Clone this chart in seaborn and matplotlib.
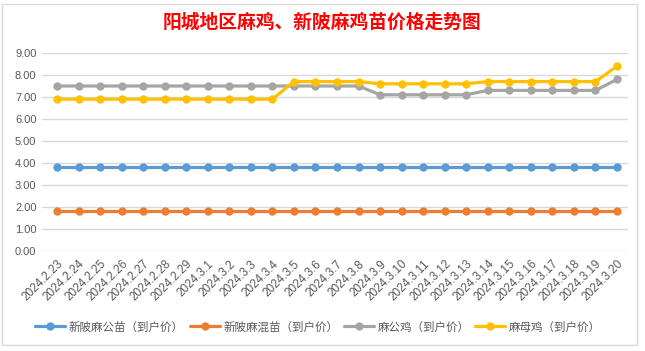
import numpy as np
import pandas as pd
import matplotlib
matplotlib.use("Agg")
import matplotlib.pyplot as plt
import seaborn as sns
from matplotlib.lines import Line2D
from matplotlib.patches import Rectangle

dates = ["2024.2.23", "2024.2.24", "2024.2.25", "2024.2.26", "2024.2.27", "2024.2.28",
         "2024.2.29", "2024.3.1", "2024.3.2", "2024.3.3", "2024.3.4", "2024.3.5",
         "2024.3.6", "2024.3.7", "2024.3.8", "2024.3.9", "2024.3.10", "2024.3.11",
         "2024.3.12", "2024.3.13", "2024.3.14", "2024.3.15", "2024.3.16", "2024.3.17",
         "2024.3.18", "2024.3.19", "2024.3.20"]

gongmiao = [3.8] * 27
hunmiao = [1.8] * 27
gongji = [7.5] * 15 + [7.1] * 5 + [7.3] * 6 + [7.8]
muji = [6.9] * 11 + [7.7] * 4 + [7.6] * 5 + [7.7] * 6 + [8.4]

series_names = ["新陂麻公苗（到户价）", "新陂麻混苗（到户价）", "麻公鸡（到户价）", "麻母鸡（到户价）"]
series_vals = [gongmiao, hunmiao, gongji, muji]
colors = ["#5B9BD5", "#ED7D31", "#A5A5A5", "#FFC000"]
title = "阳城地区麻鸡、新陂麻鸡苗价格走势图"

sns.set_theme(style="white")
plt.rcParams['font.family'] = ['Noto Sans CJK SC', 'DejaVu Sans']

W, H = 645, 351
fig = plt.figure(figsize=(W / 100, H / 100), dpi=100)
fig.patch.set_facecolor("white")

left_px, right_px = 42, 628
top_px, bot_px = 53, 251
ax = fig.add_axes([left_px / W, 1 - bot_px / H, (right_px - left_px) / W, (bot_px - top_px) / H])

rows = []
for name, vals in zip(series_names, series_vals):
    for i, v in enumerate(vals):
        rows.append({"idx": i, "date": dates[i], "value": v, "series": name})
df = pd.DataFrame(rows)

for name, c in zip(series_names, colors):
    sns.lineplot(data=df[df.series == name], x="idx", y="value", ax=ax, color=c,
                 linewidth=2.3, marker="o", markersize=6, markeredgewidth=0,
                 legend=False, zorder=3)

step = (617 - 57) / 26
ax.set_xlim(-(57 - left_px) / step, 26 + (right_px - 617) / step)
ax.set_ylim(0, 9)
ax.set_yticks(np.arange(0, 10, 1))
ax.set_yticklabels([f"{v:.2f}" for v in np.arange(0, 10, 1)], color="#595959", fontsize=8,
                   family=['Liberation Sans'])
ax.set_xticks(range(len(dates)))
ax.set_xticklabels(dates, rotation=45, ha="right", rotation_mode="anchor",
                   color="#595959", fontsize=8.5, family=['Liberation Sans'])
ax.tick_params(axis="x", length=0, pad=5)
ax.tick_params(axis="y", length=0, pad=4)
ax.grid(axis="y", color="#D9D9D9", linewidth=1)
ax.set_axisbelow(True)
for s in ax.spines.values():
    s.set_visible(False)
ax.set_xlabel("")
ax.set_ylabel("")

fig.text(322 / W, 1 - 22 / H, title, ha="center", va="center", color="#FF0000",
         fontsize=13.5, fontweight="bold")

handles = [Line2D([0], [0], color=c, linewidth=2.3, marker="o", markersize=6, markeredgewidth=0)
           for c in colors]
leg = fig.legend(handles, series_names, loc="center", bbox_to_anchor=(318 / W, 1 - 327 / H),
                 ncol=4, frameon=False, fontsize=8.3, handlelength=2.6, columnspacing=0.5,
                 handletextpad=0.3)
for t in leg.get_texts():
    t.set_color("#595959")

fig.add_artist(Rectangle((2 / W, 1 - 345 / H), (637 - 2) / W, (345 - 4) / H,
                         transform=fig.transFigure, fill=False, edgecolor="#D9D9D9", linewidth=1))

fig.savefig("out.png", dpi=100, facecolor="white")
